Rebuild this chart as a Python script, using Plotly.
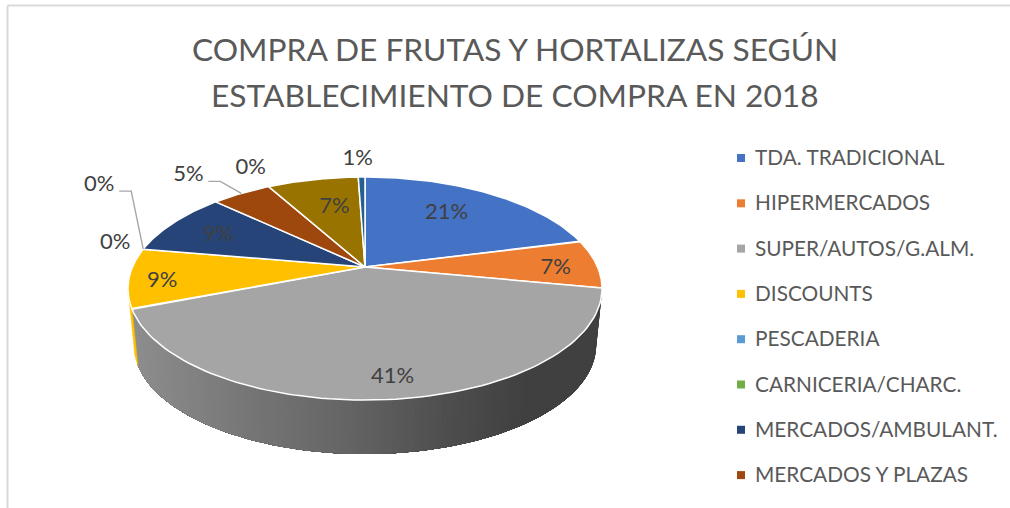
import numpy as np
import plotly.graph_objects as go

TITLE_LINES = ["COMPRA DE FRUTAS Y HORTALIZAS SEGÚN", "ESTABLECIMIENTO DE COMPRA EN 2018"]
legend_names = ["TDA. TRADICIONAL", "HIPERMERCADOS", "SUPER/AUTOS/G.ALM.", "DISCOUNTS",
                "PESCADERIA", "CARNICERIA/CHARC.", "MERCADOS/AMBULANT.", "MERCADOS Y PLAZAS"]
values = [20.95, 7.05, 41.0, 8.7, 0.0, 0.0, 9.3, 4.9, 0.0, 7.49, 0.55]
colors = ["#4472C4", "#ED7D31", "#A5A5A5", "#FFC000", "#5B9BD5", "#70AD47",
          "#264478", "#9E480E", "#636363", "#997300", "#255E91"]
# slice index: (radius fraction, nudge x, nudge y)
inside_labels = {0: (0.67, -5, -2), 1: (0.82, 1, 4), 2: (0.84, 6, 3), 3: (0.82, -10, 5),
                 6: (0.72, -6, 1), 9: (0.62, 4, -2)}
# (slice index, text dx, text dy from rim point, has leader)
outside_labels = [(4, -28, -6, False), (5, -44, -64, True), (7, -53, -18, True),
                  (8, -18, -18, False), (10, -4, -17, False)]

CX, CY, R, S, K = 365.0, 267.0, 232.6, 107.4, 0.193
F, D = 0.975, 57.3
TXT = "#404040"
FONT = "Lato"


def rim(theta, r=1.0):
    u, v = r * np.sin(theta), -r * np.cos(theta)
    s = 1 / (1 - K * v)
    return CX + R * u * s, CY + S * v * s


def rim_bottom(theta):
    x, y = rim(theta)
    return CX + F * (x - CX), CY + D + F * (y - CY)


def side_color(x):
    stops_x = [130, 250, 350, 450, 530, 610]
    stops_v = [142, 118, 100, 78, 64, 64]
    g = int(np.interp(x, stops_x, stops_v))
    return f"rgb({g},{g},{g})"


def side_poly(t0, t1, c, lw):
    ts = np.linspace(t0, t1, max(2, int((t1 - t0) / 0.01)))
    xt, yt = rim(ts)
    xb, yb = rim_bottom(ts)
    fig.add_trace(go.Scatter(x=np.r_[xt, xb[::-1], xt[0]], y=np.r_[yt, yb[::-1], yt[0]],
                             mode="lines", fill="toself", fillcolor=c,
                             line=dict(color=c, width=lw),
                             hoverinfo="skip", showlegend=False))


cum = np.concatenate([[0], np.cumsum(values)]) / sum(values) * 2 * np.pi
fig = go.Figure()

# side wall: gradient bands are painted one over the other so no seams appear
front_a, front_b = np.arcsin(K) + np.pi / 2, 3 * np.pi / 2 - np.arcsin(K)
for i, val in enumerate(values):
    a, b = max(cum[i], front_a), min(cum[i + 1], front_b)
    if val <= 0 or a >= b:
        continue
    if i == 2:
        for t0 in np.arange(a, b - 0.02, 0.02):
            x0, _ = rim(np.array([t0 + 0.01]))
            side_poly(t0, b, side_color(x0[0]), 0)
    else:
        side_poly(a, b, colors[i], 0.5)

# top face
for i, val in enumerate(values):
    if val <= 0:
        continue
    ts = np.linspace(cum[i], cum[i + 1], 90)
    x, y = rim(ts)
    fig.add_trace(go.Scatter(x=np.r_[CX, x, CX], y=np.r_[CY, y, CY], mode="lines",
                             fill="toself", fillcolor=colors[i],
                             line=dict(color="white", width=1.5),
                             hoverinfo="skip", showlegend=False))

# inside labels
for i, (r, nx, ny) in inside_labels.items():
    x, y = rim((cum[i] + cum[i + 1]) / 2, r)
    fig.add_trace(go.Scatter(x=[x + nx], y=[y + ny], mode="text", text=[f"{round(values[i])}%"],
                             textfont=dict(family=FONT, size=22, color=TXT),
                             hoverinfo="skip", showlegend=False))

# outside labels with leaders
for i, dx, dy, leader in outside_labels:
    x0, y0 = rim((cum[i] + cum[i + 1]) / 2)
    if leader:
        side = dx + 20
        fig.add_trace(go.Scatter(x=[x0, x0 + side + 12, x0 + side], y=[y0, y0 + dy + 6, y0 + dy + 6],
                                 mode="lines", line=dict(color="#A6A6A6", width=1.4),
                                 hoverinfo="skip", showlegend=False))
    fig.add_trace(go.Scatter(x=[x0 + dx], y=[y0 + dy], mode="text", text=[f"{round(values[i])}%"],
                             textfont=dict(family=FONT, size=22, color=TXT),
                             hoverinfo="skip", showlegend=False))

# legend (the reference is clipped after eight entries)
LEG_X, LEG_TX, LEG_Y0, LEG_DY = 741, 755, 160, 45.3
for i, name in enumerate(legend_names):
    y = LEG_Y0 + i * LEG_DY
    fig.add_trace(go.Scatter(x=[LEG_X], y=[y - 2], mode="markers", name=name,
                             marker=dict(symbol="square", size=8, color=colors[i]),
                             hoverinfo="skip", showlegend=False))
    fig.add_trace(go.Scatter(x=[LEG_TX], y=[y], mode="text", text=[name], textposition="middle right",
                             textfont=dict(family=FONT, size=20.8, color="#595959"),
                             hoverinfo="skip", showlegend=False))

fig.update_layout(
    width=1010, height=508, margin=dict(l=0, r=0, t=0, b=0),
    paper_bgcolor="white", plot_bgcolor="white",
    annotations=[dict(x=515, y=49 + 46 * k, xref="x", yref="y", text=line, showarrow=False,
                      xanchor="center", yanchor="middle",
                      font=dict(family=FONT, size=31.7, color="#595959"))
                 for k, line in enumerate(TITLE_LINES)],
    xaxis=dict(range=[0, 1010], visible=False, fixedrange=True),
    yaxis=dict(range=[508, 0], visible=False, fixedrange=True),
    shapes=[dict(type="line", x0=7.5, x1=7.5, y0=5.5, y1=508, line=dict(color="#D9D9D9", width=2)),
            dict(type="line", x0=7.5, x1=1010, y0=5.5, y1=5.5, line=dict(color="#D9D9D9", width=2))],
)
fig.write_html("out.html", config=dict(displayModeBar=False),
               post_script="document.body.style.margin='0';document.body.style.overflow='hidden';")
